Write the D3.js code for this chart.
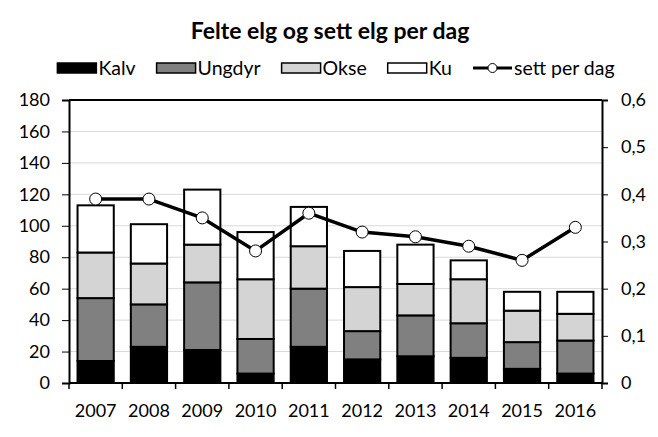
<!DOCTYPE html>
<html>
<head>
<meta charset="utf-8">
<script src="https://cdn.jsdelivr.net/npm/d3@7"></script>
<style>
  html, body { margin: 0; padding: 0; background: #fff; }
  svg { display: block; font-family: Lato, "Open Sans", sans-serif; }
</style>
</head>
<body>
<svg id="chart" width="658" height="437"></svg>
<script>
const years  = ["2007","2008","2009","2010","2011","2012","2013","2014","2015","2016"];
const kalv   = [14, 23, 21,  6, 23, 15, 17, 16,  9,  6];
const ungdyr = [40, 27, 43, 22, 37, 18, 26, 22, 17, 21];
const okse   = [29, 26, 24, 38, 27, 28, 20, 28, 20, 17];
const ku     = [30, 25, 35, 30, 25, 23, 25, 12, 12, 14];
const settPerDag = [0.39, 0.39, 0.35, 0.28, 0.36, 0.32, 0.31, 0.29, 0.26, 0.33];
const leftTicks  = [0, 20, 40, 60, 80, 100, 120, 140, 160, 180];
const rightTicks = [0, 0.1, 0.2, 0.3, 0.4, 0.5, 0.6];
const seriesNames = ["Kalv", "Ungdyr", "Okse", "Ku"];
const lineName = "sett per dag";
const title = "Felte elg og sett elg per dag";

const colors = { Kalv: "#000000", Ungdyr: "#808080", Okse: "#d4d4d4", Ku: "#ffffff" };

const svg = d3.select("#chart");
const M = { left: 69, right: 602, top: 100, bottom: 383 };

const x = d3.scaleBand().domain(years).range([M.left, M.right]).paddingInner(0.32).paddingOuter(0.16);
const y = d3.scaleLinear().domain([0, 180]).range([M.bottom, M.top]);
const y2 = d3.scaleLinear().domain([0, 0.6]).range([M.bottom, M.top]);

// Title
svg.append("text").attr("x", 330).attr("y", 39).attr("text-anchor", "middle")
  .attr("font-weight", "bold").attr("font-size", 23).attr("fill", "#000").text(title);

// Gridlines
svg.append("g").selectAll("line").data(leftTicks.filter(d => d > 0 && d < 180)).join("line")
  .attr("x1", M.left).attr("x2", M.right)
  .attr("y1", d => y(d)).attr("y2", d => y(d))
  .attr("stroke", "#d9d9d9").attr("stroke-width", 1);

// Stacked bars
const table = years.map((yr, i) => ({ year: yr, Kalv: kalv[i], Ungdyr: ungdyr[i], Okse: okse[i], Ku: ku[i] }));
const stack = d3.stack().keys(seriesNames)(table);
const gBars = svg.append("g");
stack.forEach(layer => {
  gBars.append("g").selectAll("rect").data(layer).join("rect")
    .attr("x", d => x(d.data.year))
    .attr("width", x.bandwidth())
    .attr("y", d => y(d[1]))
    .attr("height", d => y(d[0]) - y(d[1]))
    .attr("fill", colors[layer.key])
    .attr("stroke", "#000").attr("stroke-width", 2);
});

// Frame / axes
const axG = svg.append("g");
const leftAxis = d3.axisLeft(y).tickValues(leftTicks).tickSize(7).tickPadding(12);
const gl = svg.append("g").attr("transform", `translate(${M.left},0)`).call(leftAxis);
gl.select(".domain").attr("stroke-width", 2);
gl.selectAll(".tick line").attr("stroke-width", 1);
gl.selectAll("text").attr("font-size", 18).attr("fill", "#000").attr("font-family", "Lato, sans-serif");

const fmt = d => d === 0 ? "0" : d3.format(".1f")(d).replace(".", ",");
const rightAxis = d3.axisRight(y2).tickValues(rightTicks).tickFormat(fmt).tickSize(6).tickPadding(13);
const gr = svg.append("g").attr("transform", `translate(${M.right},0)`).call(rightAxis);
gr.select(".domain").attr("stroke-width", 2);
gr.selectAll(".tick line").attr("stroke-width", 1);
gr.selectAll("text").attr("font-size", 18).attr("fill", "#000").attr("font-family", "Lato, sans-serif");

// top border
axG.append("line").attr("x1", M.left).attr("x2", M.right).attr("y1", M.top).attr("y2", M.top)
  .attr("stroke", "#000").attr("stroke-width", 2);

// bottom axis
const step = x.step();
const gb = svg.append("g");
gb.append("line").attr("x1", M.left).attr("x2", M.right).attr("y1", M.bottom).attr("y2", M.bottom)
  .attr("stroke", "#000").attr("stroke-width", 2);
gb.selectAll(".bt").data(d3.range(years.length + 1)).join("line").attr("class", "bt")
  .attr("x1", i => M.left + i * step).attr("x2", i => M.left + i * step)
  .attr("y1", M.bottom).attr("y2", M.bottom + 6).attr("stroke", "#000").attr("stroke-width", 1.5);
gb.selectAll("text").data(years).join("text")
  .attr("x", d => x(d) + x.bandwidth() / 2).attr("y", 417).attr("text-anchor", "middle")
  .attr("font-size", 18).attr("fill", "#000").text(d => d);

// Line
const lineGen = d3.line().x((d, i) => x(years[i]) + x.bandwidth() / 2).y(d => y2(d));
svg.append("path").datum(settPerDag).attr("d", lineGen)
  .attr("fill", "none").attr("stroke", "#000").attr("stroke-width", 3.5).attr("stroke-linejoin", "round");
svg.append("g").selectAll("circle").data(settPerDag).join("circle")
  .attr("cx", (d, i) => x(years[i]) + x.bandwidth() / 2).attr("cy", d => y2(d)).attr("r", 6)
  .attr("fill", "#fff").attr("stroke", "#000").attr("stroke-width", 1);

// Legend
const lg = svg.append("g");
const legendItems = seriesNames.map(n => ({ name: n, type: "rect" })).concat([{ name: lineName, type: "line" }]);
const swW = 39, gapText = 2, gapItem = 21, ly = 68;
let cx = 0;
legendItems.forEach(it => {
  const g = lg.append("g");
  if (it.type === "rect") {
    g.append("rect").attr("x", cx).attr("y", ly - 5).attr("width", swW).attr("height", 10)
      .attr("fill", colors[it.name]).attr("stroke", "#000").attr("stroke-width", 1.5);
  } else {
    g.append("line").attr("x1", cx).attr("x2", cx + swW).attr("y1", ly).attr("y2", ly)
      .attr("stroke", "#000").attr("stroke-width", 3);
    g.append("circle").attr("cx", cx + swW / 2).attr("cy", ly).attr("r", 4.5)
      .attr("fill", "#fff").attr("stroke", "#000").attr("stroke-width", 1);
  }
  const t = g.append("text").attr("x", cx + swW + gapText).attr("y", ly + 6.5)
    .attr("font-size", 19.5).attr("fill", "#000").text(it.name);
  const w = t.node().getComputedTextLength();
  cx += swW + gapText + w + gapItem;
});
const total = cx - gapItem;
lg.attr("transform", `translate(${336 - total / 2},0)`);
</script>
</body>
</html>
